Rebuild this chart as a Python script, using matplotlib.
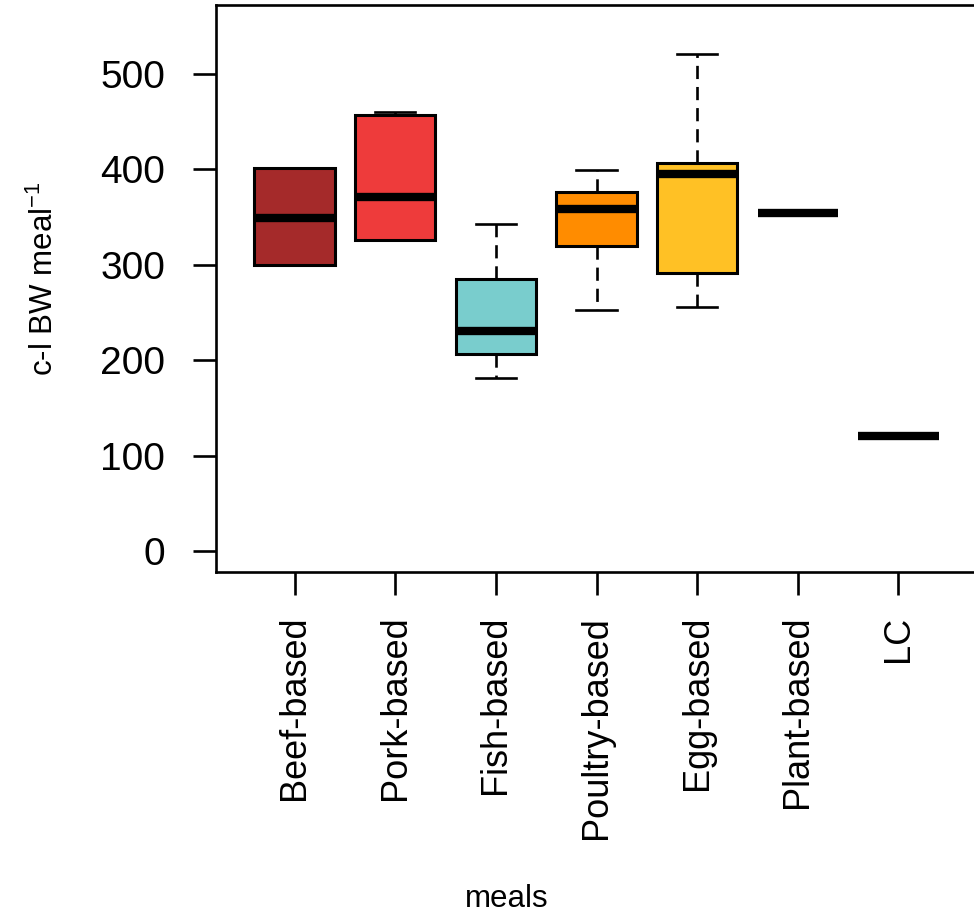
import numpy as np
import matplotlib.pyplot as plt

plt.rcParams['font.family'] = ['Liberation Sans', 'DejaVu Sans']
plt.rcParams['mathtext.default'] = 'regular'

# values (c-l BW meal^-1)
meals = ['Beef-based', 'Pork-based', 'Fish-based', 'Poultry-based',
         'Egg-based', 'Plant-based', 'LC']
whislo = [300, 326, 181, 252, 256, 354, 121]
q1 = [300, 326, 206, 320, 291, 354, 121]
med = [349, 371, 230, 358, 395, 354, 121]
q3 = [401, 457, 285, 376, 406, 354, 121]
whishi = [401, 460, 343, 399, 521, 354, 121]
colors = ['#A52A2A', '#EE3B3B', '#79CDCD', '#FF8C00', '#FFC125', 'white', 'white']

stats = []
for i in range(len(meals)):
    stats.append(dict(label=meals[i], whislo=whislo[i], q1=q1[i], med=med[i],
                      q3=q3[i], whishi=whishi[i], fliers=[]))

fig = plt.figure(figsize=(9.74, 9.22), dpi=100)
ax = fig.add_axes([216/974, (922-572)/922, (977-216)/974, (572-5)/922])

pos = np.arange(1, len(meals) + 1)
bp = ax.bxp(stats, positions=pos, widths=0.8, patch_artist=True, showfliers=False,
            boxprops=dict(linewidth=2.2, edgecolor='black'),
            whiskerprops=dict(linewidth=1.9, linestyle=(0, (5, 3)), color='black'),
            capprops=dict(linewidth=1.9, color='black'),
            medianprops=dict(linewidth=6, color='black', solid_capstyle='butt'),
            capwidths=0.4)

for i, box in enumerate(bp['boxes']):
    box.set_facecolor(colors[i])
    # single-value groups: only the median bar shows
    if q1[i] == q3[i]:
        box.set_visible(False)
        bp['caps'][2*i].set_visible(False)
        bp['caps'][2*i+1].set_visible(False)

ax.set_xlim(0.22, 7.78)
ax.set_ylim(-22, 572)
ax.set_yticks([0, 100, 200, 300, 400, 500])
ax.set_xticks(pos)
ax.set_xticklabels(meals, rotation=90)

for s in ax.spines.values():
    s.set_linewidth(1.9)
ax.tick_params(axis='both', length=16.5, width=1.9)
ax.tick_params(axis='y', pad=20, labelsize=28)
ax.tick_params(axis='x', pad=15, labelsize=26)

ax.set_ylabel('c-l BW meal$^{-1}$', fontsize=22.5)
ax.yaxis.set_label_coords(-0.205, 0.517)
ax.set_xlabel('meals', fontsize=22.5)
ax.xaxis.set_label_coords(0.382, -0.55)

plt.savefig('out.png', dpi=100)
